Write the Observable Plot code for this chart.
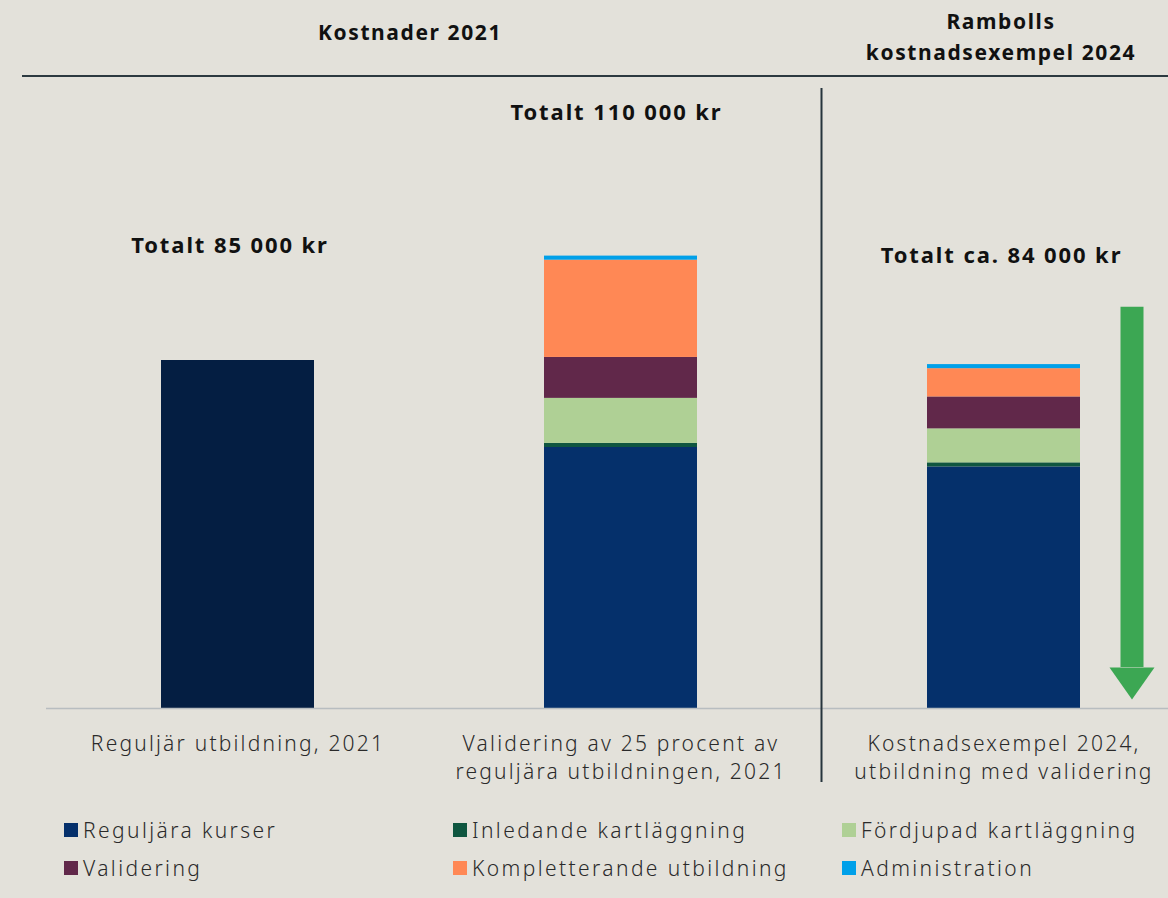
<!DOCTYPE html>
<html>
<head>
<meta charset="utf-8">
<script src="https://cdn.jsdelivr.net/npm/d3@7"></script>
<script src="https://cdn.jsdelivr.net/npm/@observablehq/plot@0.6"></script>
<style>
  html, body { margin: 0; padding: 0; background: #e3e1da; }
  body { width: 1168px; height: 898px; overflow: hidden; font-family: "Noto Sans", sans-serif; color: #1e1e1e; }
  #header { position: relative; height: 80px; }
  .htitle { position: absolute; text-align: center; font-weight: 700; font-size: 21px; line-height: 31px; color: #111; letter-spacing: 1.6px; }
  #hline { position: absolute; left: 22px; right: 0; top: 75px; height: 2px; background: #2c3a40; }
  #legend { position: relative; height: 98px; }
  .item { position: absolute; display: flex; align-items: center; font-size: 21px; font-weight: 300; color: #2a2a2a; white-space: nowrap; letter-spacing: 2.4px; }
  .sw { width: 14px; height: 14px; margin-right: 5px; flex: none; }
  .catlabel { letter-spacing: 2.2px; }
</style>
</head>
<body>
<div id="header">
  <div class="htitle" style="left:0;width:820px;top:17px;">Kostnader 2021</div>
  <div class="htitle" style="left:834px;width:334px;top:6px;">Rambolls<br>kostnadsexempel 2024</div>
  <div id="hline"></div>
</div>
<div id="chart"></div>
<div id="legend"></div>
<script>
// ---- data ----
const categories = [
  "Reguljär utbildning, 2021",
  "Validering av 25 procent av\nreguljära utbildningen, 2021",
  "Kostnadsexempel 2024,\nutbildning med validering"
];
const seriesNames = [
  "Reguljär utbildning",
  "Reguljära kurser",
  "Inledande kartläggning",
  "Fördjupad kartläggning",
  "Validering",
  "Kompletterande utbildning",
  "Administration"
];
const reguljarUtbildning = [85000, 0, 0];
const reguljaraKurser = [0, 63750, 59000];
const inledandeKartlaggning = [0, 1000, 1000];
const fordjupadKartlaggning = [0, 11000, 8300];
const validering = [0, 10000, 7800];
const kompletterandeUtbildning = [0, 23750, 6900];
const administration = [0, 1000, 1000];
const totalLabels = ["Totalt 85 000 kr", "Totalt 110 000 kr", "Totalt ca. 84 000 kr"];
const legendNames = seriesNames.slice(1);
const colors = ["#041e42", "#05306b", "#0f5640", "#afd095", "#61284a", "#ff8855", "#00a0e9"];
// annotation arrow (in value units)
const arrowTop = 98000;
const arrowHead = 10000;

const seriesValues = [reguljarUtbildning, reguljaraKurser, inledandeKartlaggning,
  fordjupadKartlaggning, validering, kompletterandeUtbildning, administration];
const rows = [];
categories.forEach((c, i) => {
  seriesNames.forEach((s, j) => {
    if (seriesValues[j][i] > 0) rows.push({category: c, series: s, value: seriesValues[j][i]});
  });
});
const totals = categories.map((c, i) => ({
  category: c, label: totalLabels[i], total: d3.sum(seriesValues, v => v[i])
}));

const headSymbol = {
  draw(ctx) { ctx.moveTo(-22.5, 0); ctx.lineTo(22.5, 0); ctx.lineTo(0, 32); ctx.closePath(); }
};
const green = "#3ca753";
const font = "Noto Sans, sans-serif";

const plot = Plot.plot({
  width: 1168,
  height: 720,
  marginTop: 8,
  marginBottom: 18,
  marginLeft: 46,
  marginRight: 0,
  style: {background: "transparent", fontFamily: font, letterSpacing: "1.9px"},
  x: {domain: categories, range: [46, 1195], paddingInner: 0.6, paddingOuter: 0.3, axis: null},
  y: {domain: [0, 85000], range: [628, 280], axis: null},
  color: {domain: seriesNames, range: colors},
  marks: [
    Plot.barY(rows, {x: "category", y: "value", fill: "series", order: seriesNames}),
    Plot.ruleY([0], {stroke: "#b8bdc0", strokeWidth: 1.5}),
    Plot.ruleX([categories[1]], {dx: 200.5, stroke: "#26343c", strokeWidth: 2}),
    Plot.text(categories, {x: d => d, y: 0, text: d => d, lineAnchor: "top", dy: 23,
      lineHeight: 1.333, fontSize: 21, fontWeight: 300, fill: "#2a2a2a", className: "catlabel"}),
    Plot.text([totals[0]], {x: "category", y: "total", text: "label", dy: -115, dx: -8,
      fontSize: 22, fontWeight: 700, fill: "#111"}),
    Plot.text([totals[1]], {x: "category", y: "total", text: "label", dy: -143, dx: -4.5,
      fontSize: 22, fontWeight: 700, fill: "#111"}),
    Plot.text([totals[2]], {x: "category", y: "total", text: "label", dy: -109, dx: -2.5,
      fontSize: 22, fontWeight: 700, fill: "#111"}),
    Plot.ruleX([{x: categories[2]}], {x: "x", y1: arrowTop, y2: arrowHead, dx: 128,
      stroke: green, strokeWidth: 23}),
    Plot.dot([{x: categories[2], y: arrowHead}], {x: "x", y: "y", dx: 128, symbol: headSymbol,
      fill: green, stroke: "none", r: 5})
  ]
});
document.getElementById("chart").appendChild(plot);

// legend
const legend = d3.select("#legend");
const colLeft = [64, 453, 842];
const rowTop = [20, 58];
legendNames.forEach((name, i) => {
  const item = legend.append("div").attr("class", "item")
    .style("left", colLeft[i % 3] + "px")
    .style("top", rowTop[Math.floor(i / 3)] + "px")
    .style("height", "20px");
  item.append("div").attr("class", "sw").style("background", colors[i + 1]);
  item.append("span").text(name);
});
</script>
</body>
</html>
